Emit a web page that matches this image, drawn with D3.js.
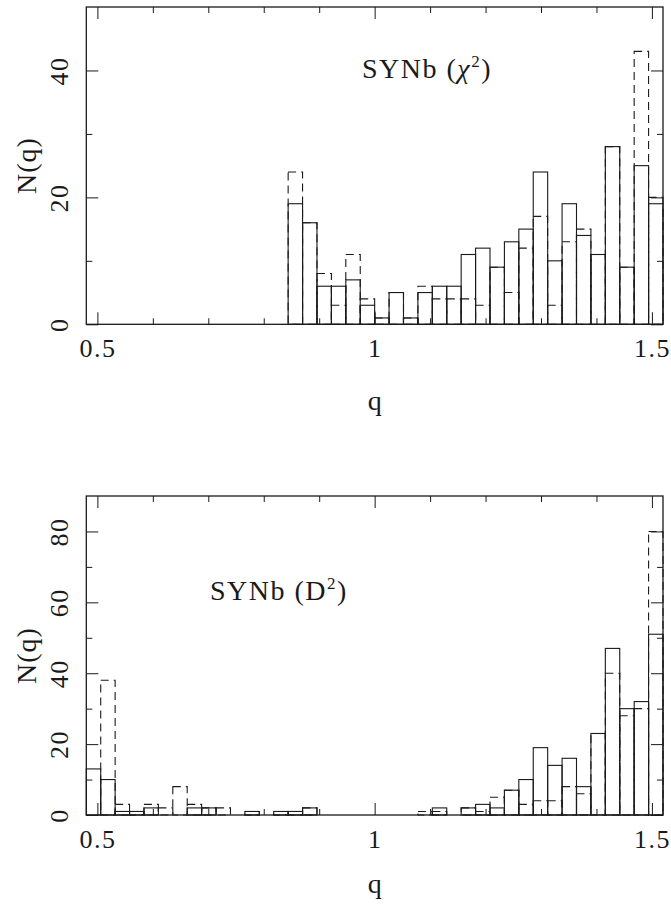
<!DOCTYPE html>
<html>
<head>
<meta charset="utf-8">
<script src="https://cdn.jsdelivr.net/npm/d3@7"></script>
<style>
  body { margin: 0; background: #fff; }
  svg { display: block; }
</style>
</head>
<body>
<div id="vis"></div>
<script>
// histogram bins (left edge of each q bin), width 0.026
var qLeft = [0.480, 0.506, 0.532, 0.558, 0.584, 0.610, 0.636, 0.662, 0.688, 0.714,
             0.740, 0.766, 0.792, 0.818, 0.844, 0.870, 0.896, 0.922, 0.948, 0.974,
             1.000, 1.026, 1.052, 1.078, 1.104, 1.130, 1.156, 1.182, 1.208, 1.234,
             1.260, 1.286, 1.312, 1.338, 1.364, 1.390, 1.416, 1.442, 1.468, 1.494];
var binWidth = 0.026;

// top panel, SYNb (chi^2)
var chiSolid  = [0, 0, 0, 0, 0, 0, 0, 0, 0, 0, 0, 0, 0, 0, 19, 16, 6, 6, 7, 3,
                 1, 5, 1, 5, 6, 6, 11, 12, 9, 13, 15, 24, 10, 19, 14, 11, 28, 9, 25, 19];
var chiDashed = [0, 0, 0, 0, 0, 0, 0, 0, 0, 0, 0, 0, 0, 0, 24, 16, 8, 3, 11, 4,
                 1, 5, 1, 6, 4, 4, 4, 3, 9, 5, 12, 17, 3, 13, 15, 11, 28, 9, 43, 20];

// bottom panel, SYNb (D^2)
var dSolid  = [13, 10, 1, 1, 2, 0, 0, 2, 2, 0, 0, 1, 0, 1, 1, 2, 0, 0, 0, 0,
               0, 0, 0, 0, 2, 0, 2, 3, 2, 7, 10, 19, 14, 16, 8, 23, 47, 30, 32, 51];
var dDashed = [0, 38, 3, 1, 3, 2, 8, 3, 2, 2, 0, 1, 0, 1, 1, 2, 0, 0, 0, 0,
               0, 0, 0, 1, 1, 0, 2, 1, 5, 7, 3, 4, 4, 8, 6, 23, 40, 28, 30, 80];

// ticks
var xMajor = [0.5, 1, 1.5];
var xMinor = [0.6, 0.7, 0.8, 0.9, 1.1, 1.2, 1.3, 1.4];
var topMajor = [0, 20, 40];
var topMinor = [10, 30];
var botMajor = [0, 20, 40, 60, 80];
var botMinor = [10, 30, 50, 70];

var W = 671, H = 911;
var left = 86.3, right = 663;
var ink = "#1a1a1a";
var serif = "'Liberation Serif', 'DejaVu Serif', serif";

var svg = d3.select("#vis").append("svg")
    .attr("width", W).attr("height", H);

var x = d3.scaleLinear().domain([0.48, 1.52]).range([left, right]);

function panel(cfg) {
  var y = d3.scaleLinear().domain([0, cfg.ymax]).range([cfg.bottom, cfg.top]);
  var g = svg.append("g");

  // histograms: solid boxes, then dashed boxes
  function hist(vals, cls, dash) {
    g.selectAll("." + cls).data(vals)
      .enter().append("rect")
        .attr("class", cls)
        .attr("x", function(d, i) { return x(qLeft[i]); })
        .attr("width", function(d, i) { return x(qLeft[i] + binWidth) - x(qLeft[i]); })
        .attr("y", function(d) { return y(d); })
        .attr("height", function(d) { return y(0) - y(d); })
        .attr("fill", "none")
        .attr("stroke", ink)
        .attr("stroke-width", 1.1)
        .attr("stroke-dasharray", dash);
  }
  hist(cfg.solid, "solid", null);
  hist(cfg.dashed, "dashed", "8,5");

  // ticks on four sides, pointing inward
  function axis(a, tr) {
    var ax = g.append("g").attr("transform", tr).call(a);
    ax.select(".domain").remove();
    ax.selectAll("line").attr("stroke", ink).attr("stroke-width", 1);
    return ax;
  }
  var xb = axis(d3.axisBottom(x).tickValues(xMajor).tickSize(-12).tickPadding(21)
      .tickFormat(d3.format("")), "translate(0," + cfg.bottom + ")");
  xb.selectAll("text").attr("font-family", serif).attr("font-size", 26)
      .attr("fill", ink).attr("letter-spacing", 1.5).attr("dy", 0).attr("y", 33);
  axis(d3.axisBottom(x).tickValues(xMinor).tickSize(-6).tickFormat(""), "translate(0," + cfg.bottom + ")");
  axis(d3.axisTop(x).tickValues(xMajor).tickSize(-12).tickFormat(""), "translate(0," + cfg.top + ")");
  axis(d3.axisTop(x).tickValues(xMinor).tickSize(-6).tickFormat(""), "translate(0," + cfg.top + ")");

  var yl = axis(d3.axisLeft(y).tickValues(cfg.major).tickSize(-12).tickFormat(d3.format("d")),
      "translate(" + left + ",0)");
  yl.selectAll("text").attr("font-family", serif).attr("font-size", 26)
      .attr("fill", ink).attr("letter-spacing", 1.5)
      .attr("x", 0).attr("dy", 0).attr("text-anchor", "middle")
      .attr("transform", "translate(-18.5,0) rotate(-90)");
  axis(d3.axisLeft(y).tickValues(cfg.minor).tickSize(-6).tickFormat(""), "translate(" + left + ",0)");
  axis(d3.axisRight(y).tickValues(cfg.major).tickSize(-12).tickFormat(""), "translate(" + right + ",0)");
  axis(d3.axisRight(y).tickValues(cfg.minor).tickSize(-6).tickFormat(""), "translate(" + right + ",0)");

  // frame
  g.append("rect")
    .attr("x", left).attr("y", cfg.top)
    .attr("width", right - left).attr("height", cfg.bottom - cfg.top)
    .attr("fill", "none").attr("stroke", ink).attr("stroke-width", 1.3);

  // axis labels
  g.append("text")
    .attr("x", (left + right) / 2).attr("y", cfg.qy)
    .attr("text-anchor", "middle")
    .attr("font-family", serif).attr("font-size", 28).attr("fill", ink)
    .text("q");
  g.append("text")
    .attr("transform", "translate(36," + ((cfg.top + cfg.bottom) / 2) + ") rotate(-90)")
    .attr("text-anchor", "middle")
    .attr("font-family", serif).attr("font-size", 28).attr("fill", ink)
    .attr("letter-spacing", 1)
    .text("N(q)");

  // panel title
  var t = g.append("text")
    .attr("x", cfg.tx).attr("y", cfg.ty)
    .attr("font-family", serif).attr("font-size", 28).attr("fill", ink)
    .attr("letter-spacing", 1.5);
  t.append("tspan").text("SYNb (");
  t.append("tspan").attr("font-style", cfg.italic ? "italic" : null).text(cfg.sym);
  t.append("tspan").attr("font-size", 17).attr("dy", -11).text("2");
  t.append("tspan").attr("dy", 11).text(")");
}

panel({ top: 7, bottom: 324.3, ymax: 50, solid: chiSolid, dashed: chiDashed,
        major: topMajor, minor: topMinor, qy: 410, tx: 362, ty: 78,
        sym: "\u03c7", italic: true });
panel({ top: 496, bottom: 815, ymax: 90, solid: dSolid, dashed: dDashed,
        major: botMajor, minor: botMinor, qy: 893, tx: 210, ty: 600,
        sym: "D", italic: false });
</script>
</body>
</html>
